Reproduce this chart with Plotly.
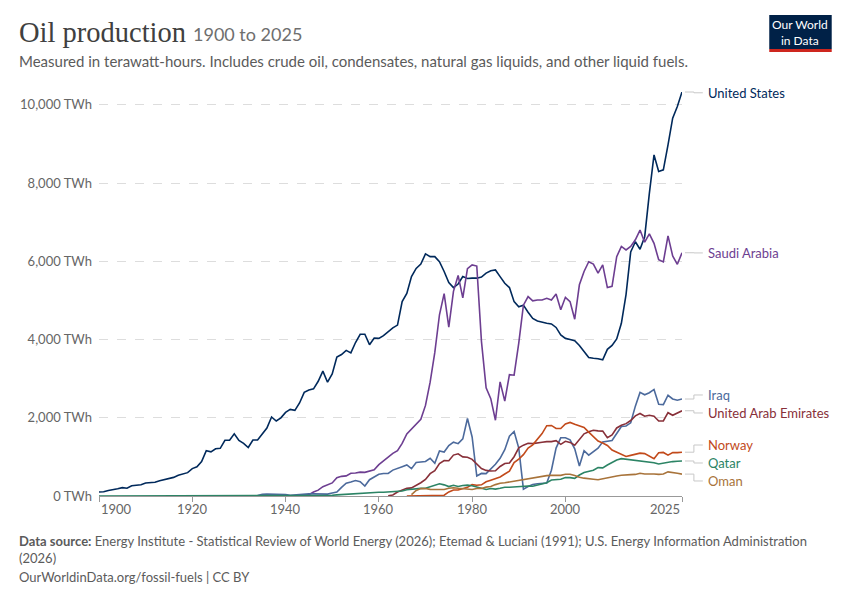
import plotly.graph_objects as go

# ---- data (TWh) ----
US_YEARS = list(range(1900, 2026))
US_TWH = [101, 109, 141, 158, 185, 213, 199, 262, 283, 289,
          332, 348, 352, 392, 420, 444, 476, 529, 562, 597,
          700, 746, 882, 1157, 1128, 1207, 1218, 1424, 1424, 1591,
          1419, 1345, 1240, 1431, 1435, 1575, 1738, 2021, 1918, 1999,
          2138, 2215, 2191, 2379, 2651, 2708, 2740, 2934, 3192, 2910,
          3119, 3552, 3618, 3724, 3658, 3925, 4135, 4135, 3869, 4040,
          4030, 4100, 4200, 4300, 4370, 4970, 5180, 5610, 5820, 5930,
          6190, 6120, 6120, 5990, 5740, 5460, 5330, 5420, 5610, 5560,
          5570, 5570, 5600, 5700, 5760, 5780, 5610, 5440, 5330, 4970,
          4840, 4880, 4700, 4540, 4475, 4440, 4415, 4400, 4310, 4120,
          4030, 4000, 3970, 3850, 3680, 3540, 3520, 3510, 3480, 3750,
          3850, 4015, 4415, 5150, 6240, 6500, 6310, 6630, 7740, 8720,
          8300, 8340, 8980, 9660, 9960, 10330]

SAUDI_YEARS = list(range(1938, 2026))
SAUDI_TWH = [1, 7, 8, 7, 7, 8, 13,
             35, 100, 150, 238, 291, 334, 465, 503, 515, 581, 589, 610, 605, 640, 668,
             802, 903, 1002, 1089, 1157, 1345, 1587, 1711, 1856, 1962,
             2317, 2909, 3670, 4634, 5173, 4316, 5232, 5639, 5064, 5815,
             5910, 5880, 3955, 2769, 2488, 1937, 2918, 2425, 3102, 3089,
             3910, 4880, 5100, 4990, 5010, 5010, 5055, 5010, 5165, 4760,
             5080, 4970, 4520, 5400, 5740, 5990, 5930, 5700, 5910, 5330,
             5360, 6120, 6380, 6290, 6380, 6550, 6800, 6490, 6700, 6460,
             6040, 5985, 6650, 6140, 5925, 6220]

IRAQ_YEARS = list(range(1934, 2026))
IRAQ_TWH = [12, 43, 47, 49, 50, 47,
            38, 19, 30, 40, 48, 55, 54, 55, 40, 48,
            78, 101, 221, 329, 359, 397, 365, 254, 416, 482,
            554, 574, 575, 662, 715, 748, 793, 700, 857, 867,
            883, 966, 835, 1150, 1123, 1289, 1377, 1338, 1460, 1982,
            1508, 511, 577, 573, 689, 812, 963, 1185, 1530, 1651,
            1225, 174, 242, 292, 315, 319, 330, 658, 1226, 1488,
            1490, 1438, 1206, 766, 1157, 1045, 1139, 1221, 1384, 1398,
            1419, 1597, 1776, 1790, 1872, 2298, 2649, 2587, 2640, 2724,
            2345, 2338, 2576, 2482, 2450, 2480]

UAE_YEARS = list(range(1962, 2026))
UAE_TWH = [8, 26, 100, 153, 195, 207, 269, 339,
           421, 572, 650, 828, 907, 900, 1046, 1080, 1000, 990,
           937, 811, 700, 655, 640, 645, 755, 832, 845, 1004,
           1233, 1300, 1347, 1340, 1350, 1373, 1390, 1390, 1415, 1320,
           1400, 1370, 1300, 1450, 1590, 1640, 1680, 1665, 1660, 1492,
           1560, 1740, 1810, 1850, 1930, 2050, 2110, 2040, 2065, 2040,
           1918, 1920, 2130, 2065, 2115, 2180]

NORWAY_YEARS = list(range(1966, 2026))
NORWAY_TWH = [0, 0, 0, 0,
              0, 3, 18, 18, 19, 105, 153, 154, 196, 222,
              290, 276, 286, 362, 404, 440, 488, 562, 637, 855,
              944, 1058, 1226, 1307, 1463, 1597, 1798, 1804, 1726, 1726,
              1840, 1880, 1833, 1795, 1753, 1633, 1528, 1406, 1356, 1292,
              1175, 1122, 1054, 1011, 1039, 1071, 1097, 1083, 1014, 952,
              1104, 1114, 1046, 1111, 1108, 1120]

QATAR_YEARS = list(range(1900, 2026))
QATAR_TWH = [0] * 49 + [
    1, 19, 29, 38, 47, 55, 63, 66, 74, 94, 94,
    96, 97, 102, 105, 118, 128, 160, 178, 187, 196,
    200, 237, 265, 314, 285, 241, 273, 245, 268, 279,
    262, 228, 183, 165, 190, 175, 196, 222, 222, 230,
    255, 245, 255, 250, 280, 305, 340, 410, 427, 427,
    470, 470, 450, 537, 600, 640, 660, 725, 720, 793,
    850, 920, 955, 940, 920, 905, 903, 880, 860, 852,
    818, 845, 870, 880, 890, 895][:77]

OMAN_YEARS = list(range(1967, 2026))
OMAN_TWH = [33, 140, 189,
            193, 169, 164, 170, 168, 198, 212, 197, 183, 171,
            165, 191, 194, 226, 241, 291, 325, 338, 360, 377,
            403, 412, 435, 455, 474, 504, 520, 528, 525, 528,
            556, 557, 524, 478, 456, 451, 430, 414, 441, 473,
            502, 513, 532, 546, 547, 552, 582, 563, 567, 563,
            552, 563, 617, 608, 580, 560]

SERIES = [
    ("United States", US_YEARS, US_TWH, "#00295B"),
    ("Saudi Arabia", SAUDI_YEARS, SAUDI_TWH, "#6D3E91"),
    ("Iraq", IRAQ_YEARS, IRAQ_TWH, "#4C6A9C"),
    ("United Arab Emirates", UAE_YEARS, UAE_TWH, "#883039"),
    ("Norway", NORWAY_YEARS, NORWAY_TWH, "#C24A1B"),
    ("Qatar", QATAR_YEARS, QATAR_TWH, "#2C8465"),
    ("Oman", OMAN_YEARS, OMAN_TWH, "#A8733A"),
]

X_TICKS = [1900, 1920, 1940, 1960, 1980, 2000, 2025]
Y_TICKS = [0, 2000, 4000, 6000, 8000, 10000]
Y_TICKTEXT = [f"{v:,} TWh" for v in Y_TICKS]

# label heights (TWh) on the right, spread so they do not overlap
LABEL_Y = {"United States": 10310, "Saudi Arabia": 6215, "Iraq": 2583,
           "United Arab Emirates": 2123, "Norway": 1304, "Qatar": 844,
           "Oman": 384}

# ---- layout geometry (pixels of the 850x600 page) ----
W, H = 850, 600
OFF = 8   # the page body has an 8px margin
L, R, T, B = 94, 682, 92, 496
YMAX = 10330
FONT = "Lato, 'Open Sans', sans-serif"


def px(x):
    return (x - L) / (R - L)


def py(y):
    return (B - y) / (B - T)


fig = go.Figure()
for name, yrs, vals, col in SERIES:
    fig.add_trace(go.Scatter(x=yrs, y=vals, mode="lines", name=name,
                             line=dict(color=col, width=1.6),
                             hovertemplate="%{x}: %{y:,.0f} TWh<extra>" + name + "</extra>"))

shapes = []
annots = []

# right-hand labels with elbow connectors
for name, yrs, vals, col in SERIES:
    y_end = vals[-1] / YMAX
    y_lab = LABEL_Y[name] / YMAX
    shapes.append(dict(type="path", xref="paper", yref="paper",
                       path=f"M {px(685)},{y_end} H {px(694)} V {y_lab} H {px(703)}",
                       line=dict(color="#c8c8c8", width=1)))
    annots.append(dict(x=px(706), y=y_lab, xref="paper", yref="paper", text=name,
                       showarrow=False, xanchor="left", yanchor="middle",
                       font=dict(family=FONT, size=13, color=col)))

# x tick labels (first left aligned, last right aligned, like the original)
for i, yr in enumerate(X_TICKS):
    anchor = "left" if i == 0 else ("right" if i == len(X_TICKS) - 1 else "center")
    annots.append(dict(x=yr, y=py(509), xref="x", yref="paper", text=str(yr),
                       showarrow=False, xanchor=anchor, yanchor="middle",
                       font=dict(family=FONT, size=13, color="#666666")))

# title, subtitle, footer
annots += [
    dict(x=px(11), y=py(32), xref="paper", yref="paper", showarrow=False,
         xanchor="left", yanchor="middle", text="Oil production",
         font=dict(family="'Liberation Serif', serif", size=28.5, color="#404040")),
    dict(x=px(187), y=py(34), xref="paper", yref="paper", showarrow=False,
         xanchor="left", yanchor="middle", text="1900 to 2025",
         font=dict(family=FONT, size=18, color="#6e6e6e")),
    dict(x=px(11), y=py(61), xref="paper", yref="paper", showarrow=False,
         xanchor="left", yanchor="middle",
         text="Measured in terawatt-hours. Includes crude oil, condensates, natural gas liquids, and other liquid fuels.",
         font=dict(family=FONT, size=15, color="#5b5b5b")),
    dict(x=px(11), y=py(549), xref="paper", yref="paper", showarrow=False,
         xanchor="left", yanchor="middle", align="left",
         text="<b>Data source:</b> Energy Institute - Statistical Review of World Energy (2026); "
              "Etemad & Luciani (1991); U.S. Energy Information Administration<br>(2026)",
         font=dict(family=FONT, size=13, color="#5b5b5b")),
    dict(x=px(11), y=py(577), xref="paper", yref="paper", showarrow=False,
         xanchor="left", yanchor="middle",
         text="OurWorldinData.org/fossil-fuels | CC BY",
         font=dict(family=FONT, size=13, color="#5b5b5b")),
    dict(x=px(801.5), y=py(32), xref="paper", yref="paper", showarrow=False,
         xanchor="center", yanchor="middle", text="Our World<br>in Data",
         font=dict(family=FONT, size=12, color="white")),
]

# OWID logo box
shapes += [
    dict(type="rect", xref="paper", yref="paper", x0=px(770), x1=px(833),
         y0=py(49), y1=py(15), fillcolor="#002147", line=dict(width=0)),
    dict(type="rect", xref="paper", yref="paper", x0=px(770), x1=px(833),
         y0=py(52), y1=py(49), fillcolor="#CE261E", line=dict(width=0)),
]

fig.update_layout(
    width=W, height=H,
    margin=dict(l=L - OFF, r=W - R + OFF, t=T - OFF, b=H - B + OFF),
    paper_bgcolor="white", plot_bgcolor="white",
    showlegend=False,
    font=dict(family=FONT, color="#666666"),
    shapes=shapes, annotations=annots,
    xaxis=dict(range=[1900, 2025], tickvals=X_TICKS, showticklabels=False,
               showgrid=False, zeroline=False, showline=True, linecolor="#999999",
               linewidth=1, ticks="outside", ticklen=5, tickcolor="#999999"),
    yaxis=dict(range=[0, YMAX], tickvals=Y_TICKS, ticktext=Y_TICKTEXT,
               showgrid=True, gridcolor="#dddddd", griddash="dash", gridwidth=1,
               zeroline=False, showline=False, ticks="", ticklabelstandoff=6,
               tickfont=dict(family=FONT, size=13, color="#666666")),
)

fig.write_html("out.html")
